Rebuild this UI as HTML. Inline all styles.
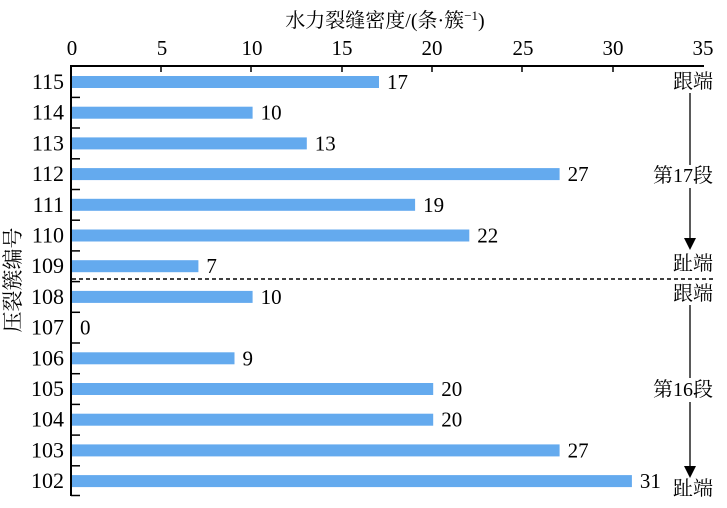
<!DOCTYPE html>
<html><head><meta charset="utf-8"><style>
body{margin:0;background:#fff}
svg text{font-family:"Liberation Serif","Noto Serif CJK SC",serif;fill:#000}
</style></head><body>
<svg width="727" height="503" viewBox="0 0 727 503" xmlns="http://www.w3.org/2000/svg">
<text x="385" y="27" font-size="20" text-anchor="middle">水力裂缝密度/(条·簇<tspan font-size="13" dy="-7">−1</tspan><tspan dy="7">)</tspan></text>
<g font-size="21" text-anchor="middle">
<text x="72" y="55">0</text><text x="162" y="55">5</text><text x="252" y="55">10</text><text x="342" y="55">15</text><text x="432" y="55">20</text><text x="523" y="55">25</text><text x="613" y="55">30</text><text x="703" y="55">35</text>
</g>
<line x1="71" y1="66" x2="704" y2="66" stroke="#000" stroke-width="2"/>
<line x1="71" y1="65" x2="71" y2="496" stroke="#000" stroke-width="2"/>
<g stroke="#000" stroke-width="1.5">
<line x1="161" y1="66" x2="161" y2="72"/><line x1="251" y1="66" x2="251" y2="72"/><line x1="342" y1="66" x2="342" y2="72"/><line x1="432" y1="66" x2="432" y2="72"/><line x1="522" y1="66" x2="522" y2="72"/><line x1="613" y1="66" x2="613" y2="72"/>
<line x1="71" y1="97.4" x2="80" y2="97.4"/><line x1="71" y1="128" x2="80" y2="128"/><line x1="71" y1="158.8" x2="80" y2="158.8"/><line x1="71" y1="189.5" x2="80" y2="189.5"/><line x1="71" y1="220.2" x2="80" y2="220.2"/><line x1="71" y1="250.9" x2="80" y2="250.9"/><line x1="71" y1="281.6" x2="80" y2="281.6"/><line x1="71" y1="312.3" x2="80" y2="312.3"/><line x1="71" y1="343" x2="80" y2="343"/><line x1="71" y1="373.7" x2="80" y2="373.7"/><line x1="71" y1="404.4" x2="80" y2="404.4"/><line x1="71" y1="435.1" x2="80" y2="435.1"/><line x1="71" y1="465.8" x2="80" y2="465.8"/><line x1="71" y1="495.5" x2="80" y2="495.5"/>
</g>
<g fill="#64aaee">
<rect x="72" y="76" width="307" height="12"/>
<rect x="72" y="106.7" width="180.6" height="12"/>
<rect x="72" y="137.4" width="234.8" height="12"/>
<rect x="72" y="168.1" width="487.6" height="12"/>
<rect x="72" y="198.8" width="343.1" height="12"/>
<rect x="72" y="229.5" width="397.3" height="12"/>
<rect x="72" y="260.2" width="126.4" height="12"/>
<rect x="72" y="290.9" width="180.6" height="12"/>
<rect x="72" y="352.3" width="162.5" height="12"/>
<rect x="72" y="383" width="361.2" height="12"/>
<rect x="72" y="413.7" width="361.2" height="12"/>
<rect x="72" y="444.4" width="487.6" height="12"/>
<rect x="72" y="475.1" width="559.9" height="12"/>
</g>
<g font-size="21">
<text x="387" y="89">17</text>
<text x="260.6" y="119.7">10</text>
<text x="314.8" y="150.4">13</text>
<text x="567.6" y="181.1">27</text>
<text x="423.1" y="211.8">19</text>
<text x="477.3" y="242.5">22</text>
<text x="206.4" y="273.2">7</text>
<text x="260.6" y="303.9">10</text>
<text x="80" y="334.6">0</text>
<text x="242.5" y="365.3">9</text>
<text x="441.2" y="396">20</text>
<text x="441.2" y="426.7">20</text>
<text x="567.6" y="457.4">27</text>
<text x="639.9" y="488.1">31</text>
</g>
<g font-size="22" text-anchor="end">
<text x="64" y="89">115</text><text x="64" y="119.7">114</text><text x="64" y="150.4">113</text><text x="64" y="181.1">112</text><text x="64" y="211.8">111</text><text x="64" y="242.5">110</text><text x="64" y="273.2">109</text><text x="64" y="303.9">108</text><text x="64" y="334.6">107</text><text x="64" y="365.3">106</text><text x="64" y="396">105</text><text x="64" y="426.7">104</text><text x="64" y="457.4">103</text><text x="64" y="488.1">102</text>
</g>
<line x1="72" y1="279" x2="713" y2="279" stroke="#000" stroke-width="1.5" stroke-dasharray="4,3"/>
<text transform="translate(20,280) rotate(-90)" font-size="21" text-anchor="middle">压裂簇编号</text>
<g font-size="20" text-anchor="end">
<text x="713" y="88">跟端</text><text x="713" y="182">第17段</text><text x="713" y="270">趾端</text>
<text x="713" y="300">跟端</text><text x="713" y="396">第16段</text><text x="713" y="495">趾端</text>
</g>
<g stroke="#000" stroke-width="1.3">
<line x1="690" y1="93" x2="690" y2="165"/><line x1="690" y1="188" x2="690" y2="240"/>
<line x1="690" y1="305" x2="690" y2="378"/><line x1="690" y1="402" x2="690" y2="472"/>
</g>
<polygon points="684,238 696,238 690,250" fill="#000"/>
<polygon points="684,466 696,466 690,478" fill="#000"/>
</svg>
</body></html>
